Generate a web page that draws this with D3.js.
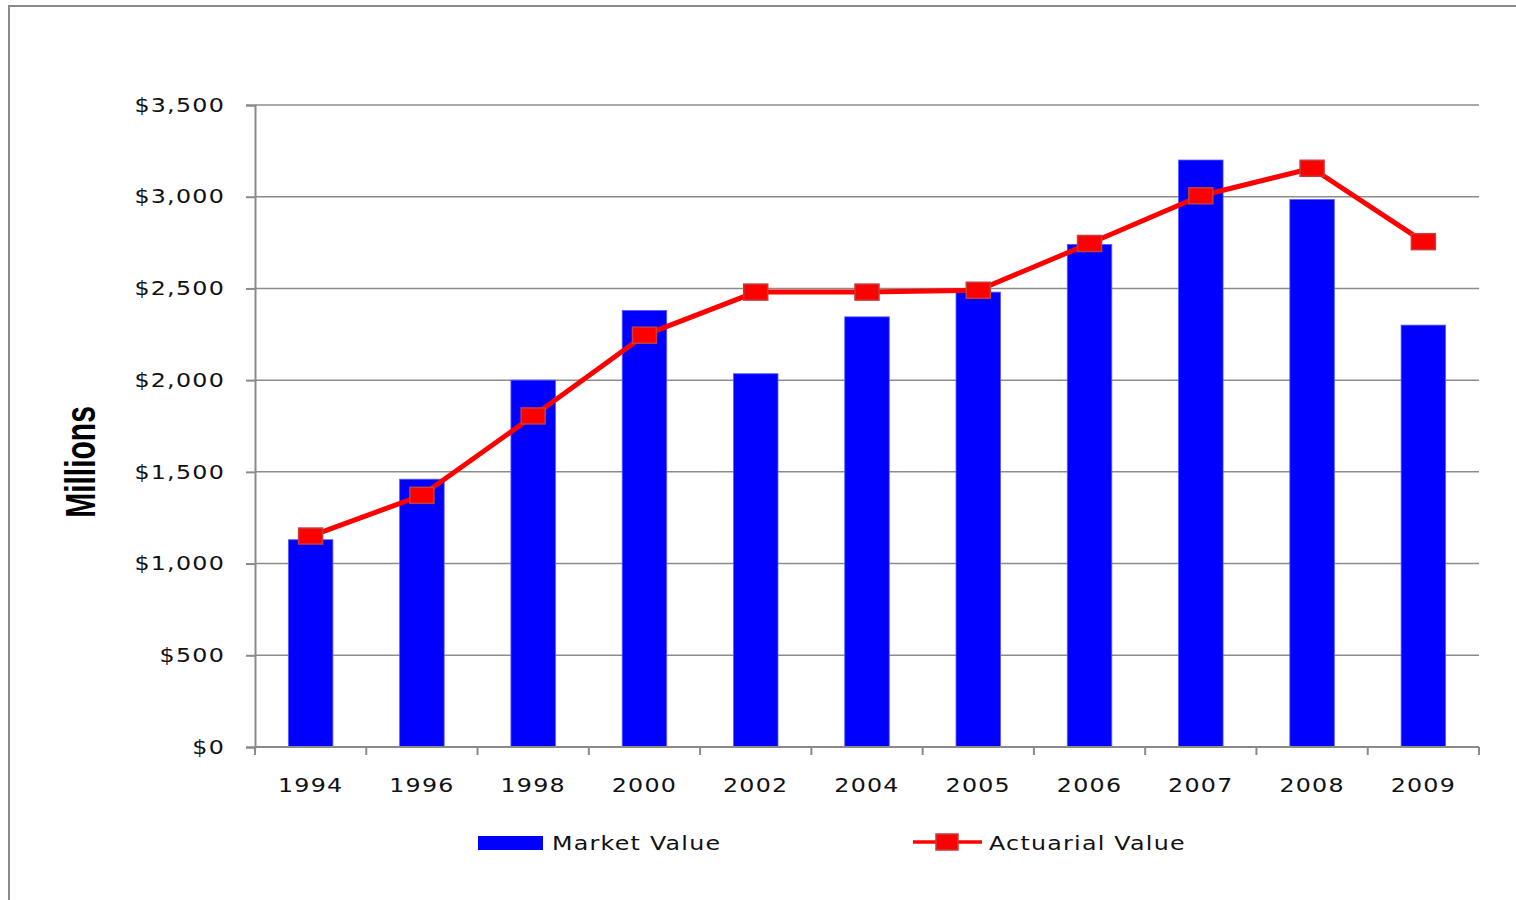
<!DOCTYPE html>
<html>
<head>
<meta charset="utf-8">
<script src="https://cdn.jsdelivr.net/npm/d3@7"></script>
<style>
  html, body { margin: 0; padding: 0; background: #fff; }
  svg { display: block; }
  .lbl { font-family: "DejaVu Sans", Verdana, sans-serif; font-size: 19px; fill: #111; letter-spacing: 1px; }
</style>
</head>
<body>
<svg id="chart" width="1516" height="900"></svg>
<script>
// Fund values in millions of dollars
const years = ["1994", "1996", "1998", "2000", "2002", "2004", "2005", "2006", "2007", "2008", "2009"];
const marketValue = [1130, 1460, 2000, 2380, 2035, 2345, 2480, 2740, 3200, 2985, 2300];
const actuarialValue = [1150, 1372, 1805, 2245, 2480, 2480, 2490, 2745, 3005, 3155, 2755];
const yTicks = [0, 500, 1000, 1500, 2000, 2500, 3000, 3500];
const seriesNames = ["Market Value", "Actuarial Value"];

const svg = d3.select("#chart");
const W = 1516, H = 900;
const plot = { left: 255, right: 1479, top: 105, bottom: 747 };
const stretch = 1.25; // wide lettering for labels

// outer frame (top and left edges visible)
svg.append("rect")
  .attr("x", 9).attr("y", 6)
  .attr("width", W + 20).attr("height", H + 20)
  .attr("fill", "none").attr("stroke", "#8a8a8a").attr("stroke-width", 2);

const x = d3.scaleBand().domain(years).range([plot.left, plot.right]).paddingInner(0.6).paddingOuter(0.3);
const xOuter = d3.scaleBand().domain(years).range([plot.left, plot.right]).padding(0);
const y = d3.scaleLinear().domain([0, 3500]).range([plot.bottom, plot.top]);

// horizontal gridlines
svg.append("g").selectAll("line").data(yTicks.filter(d => d > 0)).join("line")
  .attr("x1", plot.left).attr("x2", plot.right)
  .attr("y1", d => y(d)).attr("y2", d => y(d))
  .attr("stroke", "#8c8c8c").attr("stroke-width", 1.5);

// y axis
const yAxis = svg.append("g")
  .attr("transform", `translate(${plot.left},0)`)
  .call(d3.axisLeft(y).tickValues(yTicks).tickSize(9).tickFormat(""));
yAxis.select(".domain").attr("stroke", "#8a8a8a").attr("stroke-width", 2);
yAxis.selectAll(".tick line").attr("stroke", "#8a8a8a").attr("stroke-width", 2);
const fmt = d => "$" + d3.format(",")(d);
svg.append("g").selectAll("text").data(yTicks).join("text")
  .attr("class", "lbl")
  .attr("text-anchor", "end")
  .attr("dy", "0.35em")
  .attr("transform", d => `translate(225,${y(d)}) scale(${stretch},1)`)
  .text(fmt);

// bars
svg.append("g").selectAll("rect").data(years).join("rect")
  .attr("x", (d) => x(d))
  .attr("width", x.bandwidth())
  .attr("y", (d, i) => y(marketValue[i]))
  .attr("height", (d, i) => y(0) - y(marketValue[i]))
  .attr("fill", "#0000ff")
  .attr("stroke", "#5a5aff").attr("stroke-width", 0.8);

// x axis
const xAxisG = svg.append("g").attr("transform", `translate(0,${plot.bottom})`);
xAxisG.append("line")
  .attr("x1", plot.left).attr("x2", plot.right)
  .attr("stroke", "#8a8a8a").attr("stroke-width", 2);
const boundaries = years.map(d => xOuter(d)).concat([plot.right]);
xAxisG.selectAll("line.tk").data(boundaries).join("line").attr("class", "tk")
  .attr("x1", d => d).attr("x2", d => d).attr("y1", 0).attr("y2", 8)
  .attr("stroke", "#8a8a8a").attr("stroke-width", 2);
xAxisG.selectAll("text").data(years).join("text")
  .attr("class", "lbl")
  .attr("text-anchor", "middle")
  .attr("transform", d => `translate(${xOuter(d) + xOuter.bandwidth() / 2},45) scale(${stretch},1)`)
  .text(d => d);

// actuarial line with square markers
const cx = d => xOuter(d) + xOuter.bandwidth() / 2;
const lineGen = d3.line().x((d, i) => cx(years[i])).y(d => y(d));
svg.append("path").datum(actuarialValue)
  .attr("d", lineGen)
  .attr("fill", "none").attr("stroke", "#ff0000").attr("stroke-width", 5)
  .attr("stroke-linejoin", "round");
const mw = 24, mh = 16;
svg.append("g").selectAll("rect").data(actuarialValue).join("rect")
  .attr("x", (d, i) => cx(years[i]) - mw / 2)
  .attr("y", d => y(d) - mh / 2)
  .attr("width", mw).attr("height", mh)
  .attr("fill", "#ff0000").attr("stroke", "#c43c3c").attr("stroke-width", 1.5);

// y axis title
svg.append("text")
  .attr("transform", "translate(95,462) rotate(-90) scale(1,1.42)")
  .attr("text-anchor", "middle")
  .attr("font-family", "'Liberation Sans Narrow', 'Arial Narrow', 'Liberation Sans', sans-serif")
  .attr("font-weight", "bold")
  .attr("font-size", 30)
  .attr("fill", "#000")
  .text("Millions");

// legend
const lg = svg.append("g");
lg.append("rect").attr("x", 478).attr("y", 836).attr("width", 65).attr("height", 14).attr("fill", "#0000ff");
lg.append("text").attr("class", "lbl")
  .attr("transform", `translate(552,850) scale(${stretch},1)`).text(seriesNames[0]);
lg.append("line").attr("x1", 913).attr("x2", 982).attr("y1", 842).attr("y2", 842)
  .attr("stroke", "#ff0000").attr("stroke-width", 3.5);
lg.append("rect").attr("x", 936).attr("y", 834).attr("width", 22).attr("height", 16)
  .attr("fill", "#ff0000").attr("stroke", "#c43c3c").attr("stroke-width", 1.5);
lg.append("text").attr("class", "lbl")
  .attr("transform", `translate(989,850) scale(${stretch},1)`).text(seriesNames[1]);
</script>
</body>
</html>
